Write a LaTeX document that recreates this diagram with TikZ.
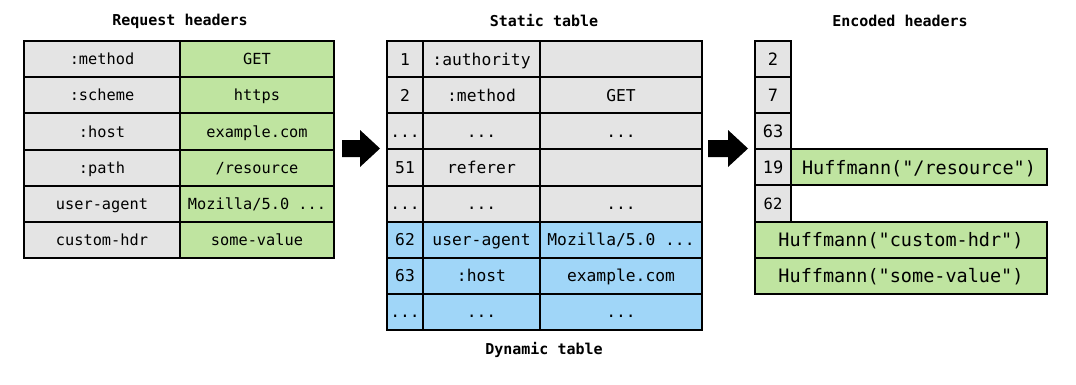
\documentclass[tikz,border=0pt]{standalone}
\usepackage{fontspec}
\setmonofont{DejaVu Sans Mono}
\definecolor{cgrey}{HTML}{E4E4E4}
\definecolor{cgreen}{HTML}{BFE4A0}
\definecolor{cblue}{HTML}{A0D6F8}
\tikzset{
  cell/.style={draw=black, line width=2pt, inner sep=0pt, text height=11.2pt, text depth=0pt, font=\ttfamily\fontsize{15.3}{17}\selectfont},
  midcell/.style={text height=11.9pt, font=\ttfamily\fontsize{16.3}{18}\selectfont},
  idxcell/.style={text height=12.4pt, font=\ttfamily\fontsize{17}{19}\selectfont},
  smallidx/.style={text height=11.3pt, font=\ttfamily\fontsize{15.5}{17}\selectfont},
  hufcell/.style={text height=13.5pt, font=\ttfamily\fontsize{18.5}{21}\selectfont},
  title/.style={font=\ttfamily\fontsize{15}{17}\selectfont\bfseries},
  blockarrow/.style={fill=black, draw=none}
}
% \cellnode[extra]{name}{x1}{x2}{ytop}{h}{fill}{text}
\newcommand{\cellnode}[8][]{%
  \pgfmathsetmacro{\cw}{#4-#3}%
  \pgfmathsetmacro{\cx}{(#3+#4)/2}%
  \pgfmathsetmacro{\cy}{#5+#6/2}%
  \node[cell, #1, fill=#7, minimum width=\cw pt, minimum height=#6 pt] (#2) at (\cx,\cy) {#8};%
}
\begin{document}
\begin{tikzpicture}[x=1pt,y=-1pt]
\useasboundingbox (0,0) rectangle (1076,384);
% ---------- Request headers ----------
\node[title] (t1) at (180,21) {Request headers};
\def\rh{36.17}
\foreach \i/\k/\v in {0/{:method}/GET,1/{:scheme}/https,2/{:host}/example.com,3/{:path}/{/resource},4/{user-agent}/{Mozilla/5.0 ...},5/{custom-hdr}/{some-value}}{
  \pgfmathsetmacro{\yt}{41+\i*\rh}
  \cellnode{rk\i}{24}{180}{\yt}{\rh}{cgrey}{\k}
  \cellnode{rv\i}{180}{334}{\yt}{\rh}{cgreen}{\v}
}
% ---------- arrow 1 ----------
\fill[blockarrow] (342,140) -- (360,140) -- (360,130) -- (380,148.5) -- (360,167) -- (360,157) -- (342,157) -- cycle;
% ---------- Static / Dynamic table ----------
\node[title] (t2) at (544,21) {Static table};
\def\sh{36.125}
\foreach \i/\n/\k/\v/\c in {0/1/{:authority}/{}/cgrey,1/2/{:method}/GET/cgrey,2/{...}/{...}/{...}/cgrey,3/51/referer/{}/cgrey,4/{...}/{...}/{...}/cgrey,5/62/{user-agent}/{Mozilla/5.0 ...}/cblue,6/63/{:host}/{example.com}/cblue,7/{...}/{...}/{...}/cblue}{
  \pgfmathsetmacro{\yt}{41+\i*\sh}
  \cellnode[midcell]{sn\i}{387}{423}{\yt}{\sh}{\c}{\n}
  \cellnode[midcell]{sk\i}{423}{540}{\yt}{\sh}{\c}{\k}
  \cellnode[midcell]{sv\i}{540}{702}{\yt}{\sh}{\c}{\v}
}
\node[title] (t3) at (544,350) {Dynamic table};
% ---------- arrow 2 ----------
\fill[blockarrow] (708,140) -- (728,140) -- (728,130) -- (748,148.5) -- (728,167) -- (728,157) -- (708,157) -- cycle;
% ---------- Encoded headers ----------
\node[title] (t4) at (900,21) {Encoded headers};
\def\eh{36.1}
\foreach \i/\n in {0/2,1/7,2/63,3/19}{
  \pgfmathsetmacro{\yt}{41+\i*\eh}
  \cellnode[idxcell]{en\i}{755}{791}{\yt}{\eh}{cgrey}{\n}
}
\pgfmathsetmacro{\yt}{41+4*\eh}
\cellnode[smallidx]{en4}{755}{791}{\yt}{\eh}{cgrey}{62}
\pgfmathsetmacro{\yt}{41+3*\eh}
\cellnode[hufcell]{eh3}{791}{1047}{\yt}{\eh}{cgreen}{Huffmann("/resource")}
\pgfmathsetmacro{\yt}{41+5*\eh}
\cellnode[hufcell]{eh5}{755}{1047}{\yt}{\eh}{cgreen}{Huffmann("custom-hdr")}
\pgfmathsetmacro{\yt}{41+6*\eh}
\cellnode[hufcell]{eh6}{755}{1047}{\yt}{\eh}{cgreen}{Huffmann("some-value")}
\end{tikzpicture}
\end{document}
